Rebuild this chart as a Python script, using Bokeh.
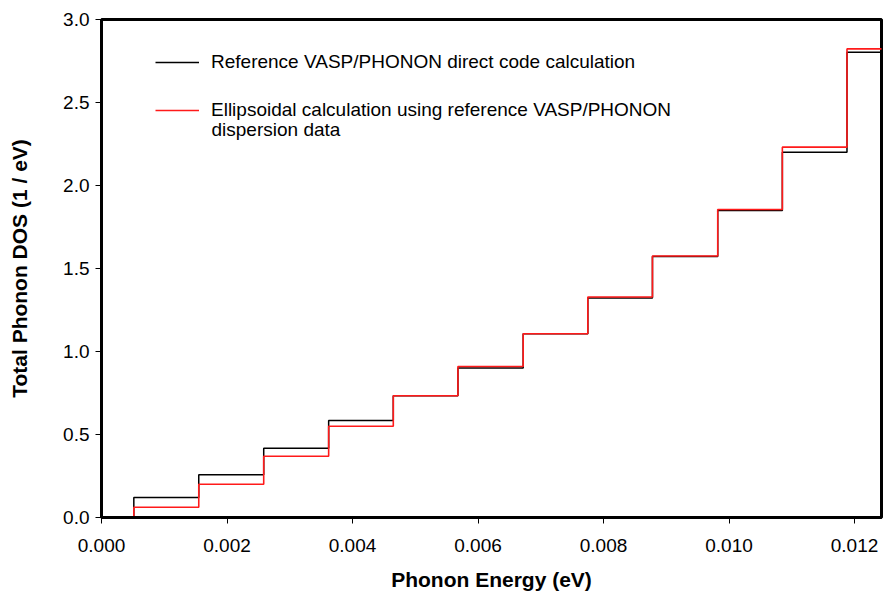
from bokeh.plotting import figure
from bokeh.models import Legend, LegendItem, Label, FixedTicker, NumeralTickFormatter, Range1d
from bokeh.embed import file_html
from bokeh.resources import INLINE

# Step edges (eV) and DOS levels (1/eV)
energy = [0.0, 0.000515, 0.00155, 0.002585, 0.00362, 0.00465, 0.00568,
          0.00672, 0.00775, 0.00878, 0.00982, 0.01085, 0.01188, 0.0125]
dos_reference = [0.0, 0.120, 0.257, 0.417, 0.585, 0.733, 0.900,
                 1.107, 1.323, 1.572, 1.850, 2.201, 2.803, 2.803]
dos_ellipsoidal = [0.0, 0.062, 0.200, 0.369, 0.550, 0.733, 0.910,
                   1.107, 1.328, 1.575, 1.855, 2.231, 2.823, 2.823]

x_ticks = [0.0, 0.002, 0.004, 0.006, 0.008, 0.010, 0.012]
y_ticks = [0.0, 0.5, 1.0, 1.5, 2.0, 2.5, 3.0]

FONT = "Liberation Sans"

p = figure(width=883, height=598, output_backend="svg", toolbar_location=None,
           x_range=Range1d(0, 0.01243), y_range=Range1d(0, 3.0))
p.min_border_left = 101
p.min_border_right = 2
p.min_border_top = 19
p.min_border_bottom = 81

p.grid.visible = False
p.outline_line_color = "black"
p.outline_line_width = 3
p.background_fill_color = "white"
p.border_fill_color = "white"

r_ref = p.step(energy, dos_reference, mode="after", line_color="black", line_width=1.5)
r_ell = p.step(energy, dos_ellipsoidal, mode="after", line_color="#ff1a1a", line_width=1.6)

for ax in (p.xaxis[0], p.yaxis[0]):
    ax.axis_line_width = 3
    ax.axis_line_color = "black"
    ax.major_tick_line_width = 1
    ax.major_tick_out = 6
    ax.major_tick_in = 0
    ax.minor_tick_line_color = None
    ax.major_label_text_font = FONT
    ax.major_label_text_font_size = "19px"
    ax.major_label_text_color = "black"
    ax.axis_label_text_font = FONT
    ax.axis_label_text_font_style = "bold"
    ax.axis_label_text_color = "black"

p.xaxis.axis_label_text_font_size = "21px"
p.yaxis.axis_label_text_font_size = "21px"
p.xaxis.ticker = FixedTicker(ticks=x_ticks)
p.yaxis.ticker = FixedTicker(ticks=y_ticks)
p.xaxis.formatter = NumeralTickFormatter(format="0.000")
p.yaxis.formatter = NumeralTickFormatter(format="0.0")
p.xaxis.axis_label = "Phonon Energy (eV)"
p.yaxis.axis_label = "Total Phonon DOS (1 / eV)"
p.xaxis.major_label_standoff = 15
p.xaxis.axis_label_standoff = 13
p.yaxis.major_label_standoff = 6
p.yaxis.axis_label_standoff = 29

legend = Legend(items=[
    LegendItem(label="Reference VASP/PHONON direct code calculation", renderers=[r_ref]),
    LegendItem(label="Ellipsoidal calculation using reference VASP/PHONON", renderers=[r_ell]),
], location=(54, 396), padding=0, spacing=26, glyph_width=44, label_standoff=12,
   border_line_color=None, background_fill_alpha=0,
   label_text_font=FONT, label_text_font_size="19px", label_text_color="black",
   label_height=22, glyph_height=22)
p.add_layout(legend)

p.add_layout(Label(x=110, y=388, x_units="screen", y_units="screen",
                   text="dispersion data", text_font=FONT, text_font_size="19px",
                   text_baseline="middle", text_color="black"))

open("out.html", "w").write(file_html(p, INLINE))
